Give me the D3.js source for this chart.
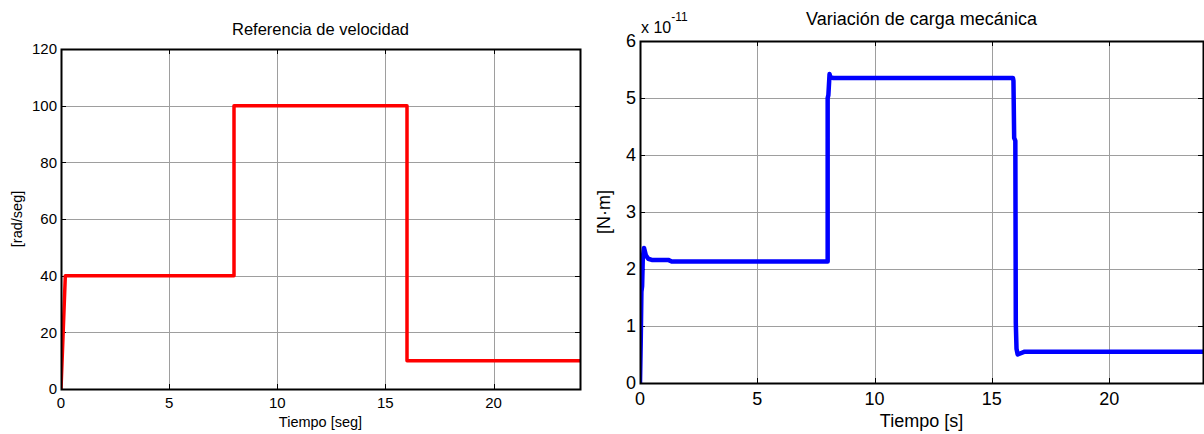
<!DOCTYPE html>
<html>
<head>
<meta charset="utf-8">
<script src="https://cdn.jsdelivr.net/npm/d3@7"></script>
<style>
  body { margin: 0; background: #fff; }
  svg { display: block; font-family: "Liberation Sans", Arial, sans-serif; }
  .grid line { stroke: #9e9e9e; stroke-width: 1; }
</style>
</head>
<body>
<svg id="chart" width="1204" height="434"></svg>
<script>
// velocity reference (left)
const velTime = [0, 0.1, 0.2, 8.0, 8.0, 16.0, 16.0, 24];
const velValue = [0, 20, 40, 40, 100, 100, 10, 10];
const velXTicks = [0, 5, 10, 15, 20];
const velYTicks = [0, 20, 40, 60, 80, 100, 120];

// mechanical load (right), values in units of 1e-11
const loadTime = [0, 0.03, 0.06, 0.09, 0.12, 0.17, 0.25, 0.35, 0.5, 1.2, 1.35, 8.0,
  8.0, 8.03, 8.08, 8.12, 8.25, 15.9, 15.92, 15.95, 16.0, 16.02, 16.05, 16.1, 16.4, 24];
const loadValue = [0, 0.7, 1.6, 1.7, 2.2, 2.37, 2.24, 2.18, 2.16, 2.16, 2.13, 2.13,
  5.0, 5.05, 5.42, 5.36, 5.35, 5.35, 5.3, 4.3, 4.25, 1.05, 0.6, 0.5, 0.55, 0.55];
const loadXTicks = [0, 5, 10, 15, 20];
const loadYTicks = [0, 1, 2, 3, 4, 5, 6];

const svg = d3.select("#chart");

function drawPanel(p) {
  const x = d3.scaleLinear().domain([0, 24]).range([p.left, p.right]);
  const y = d3.scaleLinear().domain(p.yDomain).range([p.bottom, p.top]);
  const g = svg.append("g");

  // grid
  const grid = g.append("g").attr("class", "grid");
  grid.selectAll(".gx").data(p.xTicks.filter(t => t > 0)).enter().append("line")
    .attr("x1", d => Math.round(x(d)) + 0.5).attr("x2", d => Math.round(x(d)) + 0.5)
    .attr("y1", p.top).attr("y2", p.bottom);
  grid.selectAll(".gy").data(p.yTicks.filter(t => t > p.yDomain[0] && t < p.yDomain[1])).enter().append("line")
    .attr("y1", d => Math.round(y(d)) + 0.5).attr("y2", d => Math.round(y(d)) + 0.5)
    .attr("x1", p.left).attr("x2", p.right);

  // inner ticks on all four sides
  const tk = g.append("g").attr("stroke", "#000").attr("stroke-width", 1);
  p.xTicks.forEach(t => {
    const xx = Math.round(x(t)) + 0.5;
    tk.append("line").attr("x1", xx).attr("x2", xx).attr("y1", p.bottom).attr("y2", p.bottom - 5);
    tk.append("line").attr("x1", xx).attr("x2", xx).attr("y1", p.top).attr("y2", p.top + 5);
  });
  p.yTicks.forEach(t => {
    const yy = Math.round(y(t)) + 0.5;
    tk.append("line").attr("y1", yy).attr("y2", yy).attr("x1", p.left).attr("x2", p.left + 5);
    tk.append("line").attr("y1", yy).attr("y2", yy).attr("x1", p.right).attr("x2", p.right - 5);
  });

  // data line
  const clipId = "clip" + p.id;
  svg.append("clipPath").attr("id", clipId).append("rect")
    .attr("x", p.left).attr("y", p.top - 4).attr("width", p.right - p.left).attr("height", p.bottom - p.top + 4);
  const line = d3.line().x((d, i) => x(p.time[i])).y(d => y(d));
  g.append("path")
    .datum(p.values)
    .attr("clip-path", "url(#" + clipId + ")")
    .attr("d", line)
    .attr("fill", "none")
    .attr("stroke", p.color)
    .attr("stroke-width", p.lineWidth)
    .attr("stroke-linejoin", "round");

  // box
  g.append("rect")
    .attr("x", p.left + 0.5).attr("y", p.top + 0.5)
    .attr("width", p.right - p.left).attr("height", p.bottom - p.top)
    .attr("fill", "none").attr("stroke", "#000").attr("stroke-width", 2);

  // tick labels
  g.selectAll(".xl").data(p.xTicks).enter().append("text")
    .attr("x", d => x(d)).attr("y", p.xLabelY)
    .attr("text-anchor", "middle").attr("font-size", p.tickSize).text(d => d);
  g.selectAll(".yl").data(p.yTicks).enter().append("text")
    .attr("x", p.left - 4).attr("y", d => y(d) + p.tickSize * 0.36)
    .attr("text-anchor", "end").attr("font-size", p.tickSize).text(d => d);

  // titles
  g.append("text").attr("x", (p.left + p.right) / 2).attr("y", p.titleY)
    .attr("text-anchor", "middle").attr("font-size", p.titleSize).text(p.title);
  g.append("text").attr("x", (p.left + p.right) / 2).attr("y", p.xTitleY)
    .attr("text-anchor", "middle").attr("font-size", p.labelSize).text(p.xTitle);
  g.append("text")
    .attr("transform", "translate(" + p.yTitleX + "," + ((p.top + p.bottom) / 2) + ") rotate(-90)")
    .attr("text-anchor", "middle").attr("font-size", p.labelSize).text(p.yTitle);
  return g;
}

drawPanel({
  id: "vel", left: 61, right: 580, top: 49, bottom: 389,
  yDomain: [0, 120], xTicks: velXTicks, yTicks: velYTicks,
  time: velTime, values: velValue, color: "#ff0000", lineWidth: 3.5,
  tickSize: 15, titleSize: 16.5, labelSize: 14.5,
  xLabelY: 408, titleY: 35, xTitleY: 427, yTitleX: 22,
  title: "Referencia de velocidad", xTitle: "Tiempo [seg]", yTitle: "[rad/seg]"
});

const right = drawPanel({
  id: "load", left: 640, right: 1203, top: 41, bottom: 383,
  yDomain: [0, 6], xTicks: loadXTicks, yTicks: loadYTicks,
  time: loadTime, values: loadValue, color: "#0000ff", lineWidth: 4.5,
  tickSize: 18, titleSize: 18, labelSize: 18,
  xLabelY: 405, titleY: 25, xTitleY: 427, yTitleX: 610,
  title: "Variación de carga mecánica", xTitle: "Tiempo [s]", yTitle: "[N·m]"
});

// exponent label
const ex = right.append("text").attr("x", 641).attr("y", 33).attr("font-size", 16);
ex.append("tspan").text("x 10");
ex.append("tspan").attr("dy", -12).attr("font-size", 12).text("-11");
</script>
</body>
</html>
